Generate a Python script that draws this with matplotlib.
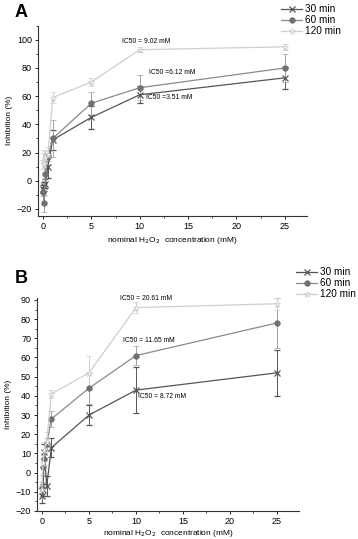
import matplotlib
matplotlib.use("Agg")
import matplotlib.pyplot as plt
from matplotlib.ticker import MultipleLocator
from matplotlib.lines import Line2D

plt.rcParams['font.family'] = ['Liberation Sans', 'DejaVu Sans']

conc = [0, 0.1, 0.25, 0.5, 1, 5, 10, 25]
series_names = ["30 min", "60 min", "120 min"]

a_30 = [-6, -4, -2, 10, 29, 45, 61, 73]
a_30_err = [3, 3, 3, 8, 7, 8, 6, 8]
a_60 = [-8, -16, 5, 17, 30, 55, 66, 80]
a_60_err = [3, 6, 4, 3, 13, 8, 9, 10]
a_120 = [14, 12, 16, 18, 59, 70, 93, 95]
a_120_err = [6, 10, 5, 6, 4, 3, 2, 2]

b_30 = [-12, -9, 11, -7, 13, 30, 43, 52]
b_30_err = [4, 3, 4, 5, 5, 5, 12, 12]
b_60 = [-8, 3, 7, 15, 28, 44, 61, 78]
b_60_err = [3, 4, 3, 3, 4, 8, 5, 13]
b_120 = [-9, 5, 12, 16, 41, 52, 86, 88]
b_120_err = [4, 5, 4, 5, 2, 9, 3, 3]

a_ic50 = ["IC50 = 9.02 mM", "IC50 =6.12 mM", "IC50 =3.51 mM"]
b_ic50 = ["IC50 = 20.61 mM", "IC50 = 11.65 mM", "IC50 = 8.72 mM"]

W, H = 358, 539
fig = plt.figure(figsize=(W / 100, H / 100), dpi=100)

def ax_rect(l, r, t, b):
    return [l / W, 1 - b / H, (r - l) / W, (b - t) / H]

styles = [
    dict(color="#555555", marker="x", ms=4, mew=0.9, ecolor="#555555"),
    dict(color="#8a8a8a", marker="o", ms=4, mew=0.5, ecolor="#a0a0a0", mfc="#707070", mec="#707070"),
    dict(color="#cfcfcf", marker="*", ms=5, mew=0.5, ecolor="#cfcfcf", mfc="white", mec="#c8c8c8"),
]

def draw(ax, data, errs, ylim, ymajor, yminor, xlabelpad):
    handles = []
    for d, e, st in zip(data, errs, styles):
        st = dict(st)
        ec = st.pop("ecolor")
        ax.errorbar(conc, d, yerr=e, lw=0.9, elinewidth=0.7, capsize=2,
                    capthick=0.6, ecolor=ec, **st)
        handles.append(Line2D([], [], lw=0.9, **st))
    ax.set_xlim(-0.5, 27.3)
    ax.set_ylim(*ylim)
    ax.spines['top'].set_visible(False)
    ax.spines['right'].set_visible(False)
    for s in ['left', 'bottom']:
        ax.spines[s].set_linewidth(0.8)
        ax.spines[s].set_color("#333333")
    ax.set_xticks([0, 5, 10, 15, 20, 25])
    ax.yaxis.set_major_locator(MultipleLocator(ymajor))
    ax.yaxis.set_minor_locator(MultipleLocator(yminor))
    ax.xaxis.set_minor_locator(MultipleLocator(2.5))
    ax.tick_params(axis='both', which='major', labelsize=6.5, length=2.5, width=0.6, direction='out', pad=2)
    ax.tick_params(axis='both', which='minor', length=1.5, width=0.5, direction='out')
    ax.set_ylabel("Inhibition (%)", fontsize=6, labelpad=3)
    ax.set_xlabel(r"nominal H$_2$O$_2$  concentration (mM)", fontsize=6, labelpad=xlabelpad)
    return handles

leg_kw = dict(loc='upper left', frameon=False, fontsize=7.2, handlelength=2.1,
              handletextpad=0.3, labelspacing=0.1, borderaxespad=0, borderpad=0)

axA = fig.add_axes(ax_rect(38.2, 307, 25.7, 216))
hA = draw(axA, [a_30, a_60, a_120], [a_30_err, a_60_err, a_120_err], (-25, 110), 20, 10, 3)
axA.text(10.7, 98.5, a_ic50[0], fontsize=4.9, ha='center', va='center')
axA.text(11.0, 77, a_ic50[1], fontsize=4.9, ha='left', va='center')
axA.text(10.7, 59, a_ic50[2], fontsize=4.9, ha='left', va='center')
fig.legend(hA, series_names, bbox_to_anchor=(281 / W, 1 - 4 / H), **leg_kw)

axB = fig.add_axes(ax_rect(37.3, 298.6, 298, 511))
hB = draw(axB, [b_30, b_60, b_120], [b_30_err, b_60_err, b_120_err], (-20, 91), 10, 5, 1)
axB.text(11.1, 90.6, b_ic50[0], fontsize=4.9, ha='center', va='center')
axB.text(11.4, 69, b_ic50[1], fontsize=4.9, ha='center', va='center')
axB.text(10.2, 39.6, b_ic50[2], fontsize=4.9, ha='left', va='center')
fig.legend(hB, series_names, bbox_to_anchor=(296 / W, 1 - 267 / H), **leg_kw)

fig.text(15 / W, 1 - 4 / H, "A", fontsize=13, fontweight='bold', va='top')
fig.text(15 / W, 1 - 270 / H, "B", fontsize=13, fontweight='bold', va='top')

fig.savefig("out.png", dpi=100)
